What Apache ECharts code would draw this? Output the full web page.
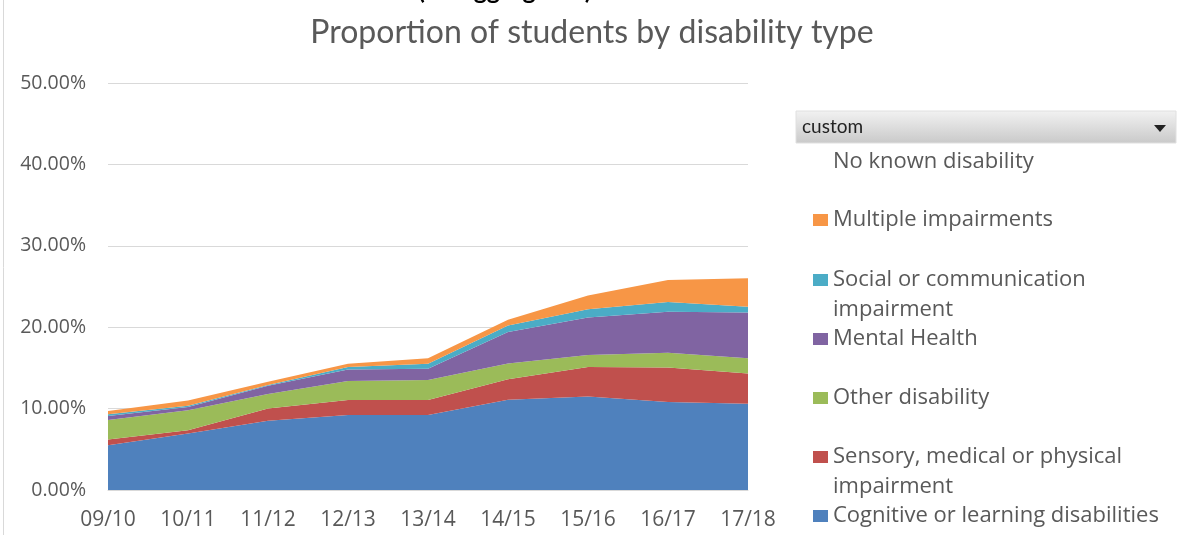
<!DOCTYPE html>
<html>
<head>
<meta charset="utf-8">
<script src="https://cdn.jsdelivr.net/npm/echarts@6/dist/echarts.min.js"></script>
<style>
  html, body { margin: 0; padding: 0; background: #fff; }
  #chart { width: 1184px; height: 535px; }
</style>
</head>
<body>
<div id="chart"></div>
<script>
// academic years on the x axis
const categories = ['09/10', '10/11', '11/12', '12/13', '13/14', '14/15', '15/16', '16/17', '17/18']

// share of students (%), stacked bottom -> top
const cognitive = [5.5, 6.95, 8.5, 9.2, 9.2, 11.1, 11.5, 10.8, 10.6]
const sensory = [0.7, 0.4, 1.5, 1.85, 1.85, 2.5, 3.6, 4.25, 3.7]
const otherDisability = [2.4, 2.45, 1.8, 2.35, 2.45, 1.95, 1.5, 1.8, 1.9]
const mentalHealth = [0.5, 0.4, 1.0, 1.4, 1.4, 3.85, 4.6, 5.05, 5.6]
const social = [0.2, 0.15, 0.1, 0.3, 0.6, 0.8, 1.0, 1.2, 0.7]
const multiple = [0.4, 0.65, 0.4, 0.4, 0.7, 0.7, 1.7, 2.7, 3.5]

const yTicks = [0, 10, 20, 30, 40, 50]

const font = '"Open Sans", sans-serif'
const grey = '#595959'

const stacked = [
  { name: 'Cognitive or learning disabilities', data: cognitive, color: '#4F81BD' },
  { name: 'Sensory, medical or physical\nimpairment', data: sensory, color: '#C0504D' },
  { name: 'Other disability', data: otherDisability, color: '#9BBB59' },
  { name: 'Mental Health', data: mentalHealth, color: '#8064A2' },
  { name: 'Social or communication\nimpairment', data: social, color: '#4BACC6' },
  { name: 'Multiple impairments', data: multiple, color: '#F79646' }
]

// legend rows (top -> bottom) and the y of each icon
const legendRows = [
  ['No known disability', 160],
  ['Multiple impairments', 218],
  ['Social or communication\nimpairment', 278],
  ['Mental Health', 337],
  ['Other disability', 396],
  ['Sensory, medical or physical\nimpairment', 455],
  ['Cognitive or learning disabilities', 514]
]

const legends = legendRows.map(([name, y]) => {
  const twoLines = name.indexOf('\n') > -1
  return {
    left: 813,
    top: twoLines ? y - 43 : y - 13,
    padding: 0,
    orient: 'vertical',
    selectedMode: false,
    itemWidth: 15,
    itemHeight: 12,
    itemGap: 0,
    icon: 'rect',
    data: [name === 'No known disability' ? { name, icon: 'none' } : name],
    // blank first line so the icon sits on the first text line
    formatter: n => (n.indexOf('\n') > -1 ? ' \n' + n : n),
    textStyle: {
      color: grey,
      fontFamily: font,
      fontSize: 22,
      lineHeight: 30
    }
  }
})

const myChart = echarts.init(document.getElementById('chart'), null, { renderer: 'canvas' })

myChart.setOption({
  animation: false,
  title: {
    text: 'Proportion of students by disability type',
    left: 'center',
    top: 12,
    textStyle: {
      color: grey,
      fontFamily: 'Lato, sans-serif',
      fontWeight: 'normal',
      fontSize: 32
    }
  },
  grid: {
    left: 108,
    right: 436,
    top: 83,
    bottom: 45
  },
  legend: legends,
  xAxis: {
    type: 'category',
    boundaryGap: false,
    data: categories,
    axisLine: { lineStyle: { color: '#d9d9d9' } },
    axisTick: { show: false },
    axisLabel: {
      color: grey,
      fontFamily: font,
      fontSize: 21,
      margin: 20
    }
  },
  yAxis: {
    type: 'value',
    min: yTicks[0],
    max: yTicks[yTicks.length - 1],
    interval: 10,
    axisLine: { show: false },
    axisTick: { show: false },
    splitLine: { lineStyle: { color: '#d9d9d9' } },
    axisLabel: {
      color: grey,
      fontFamily: font,
      fontSize: 19.5,
      margin: 22,
      formatter: v => v.toFixed(2) + '%'
    }
  },
  series: [
    ...stacked.map(s => ({
      name: s.name,
      type: 'line',
      stack: 'total',
      data: s.data,
      color: s.color,
      showSymbol: false,
      symbol: 'none',
      lineStyle: { width: 0 },
      areaStyle: { color: s.color, opacity: 1 }
    })),
    // no fill in the source chart, legend entry only
    { name: 'No known disability', type: 'line', data: [], symbol: 'none', color: 'transparent' }
  ],
  graphic: [
    // chart border on the left
    { type: 'line', shape: { x1: 3.5, y1: 0, x2: 3.5, y2: 535 }, style: { stroke: '#d9d9d9', lineWidth: 1 } },
    // cut-off heading above the chart
    {
      type: 'text',
      x: 418,
      y: 3,
      style: { text: '(Disaggregated)', fill: '#000', font: 'bold 25px Lato, sans-serif', verticalAlign: 'bottom' }
    },
    // filter box above the legend
    {
      type: 'rect',
      shape: { x: 796, y: 111, width: 380, height: 32 },
      style: {
        fill: new echarts.graphic.LinearGradient(0, 0, 0, 1, [
          { offset: 0, color: '#f2f2f2' },
          { offset: 1, color: '#c9c9c9' }
        ]),
        stroke: '#e0e0e0'
      }
    },
    {
      type: 'text',
      x: 802,
      y: 127,
      style: { text: 'custom', fill: '#222', font: '19px Lato, sans-serif', verticalAlign: 'middle' }
    },
    {
      type: 'polygon',
      shape: { points: [[1154, 125], [1166, 125], [1160, 132]] },
      style: { fill: '#222' }
    }
  ]
})

window.addEventListener('resize', () => {
  myChart.resize()
}, false)
</script>
</body>
</html>
